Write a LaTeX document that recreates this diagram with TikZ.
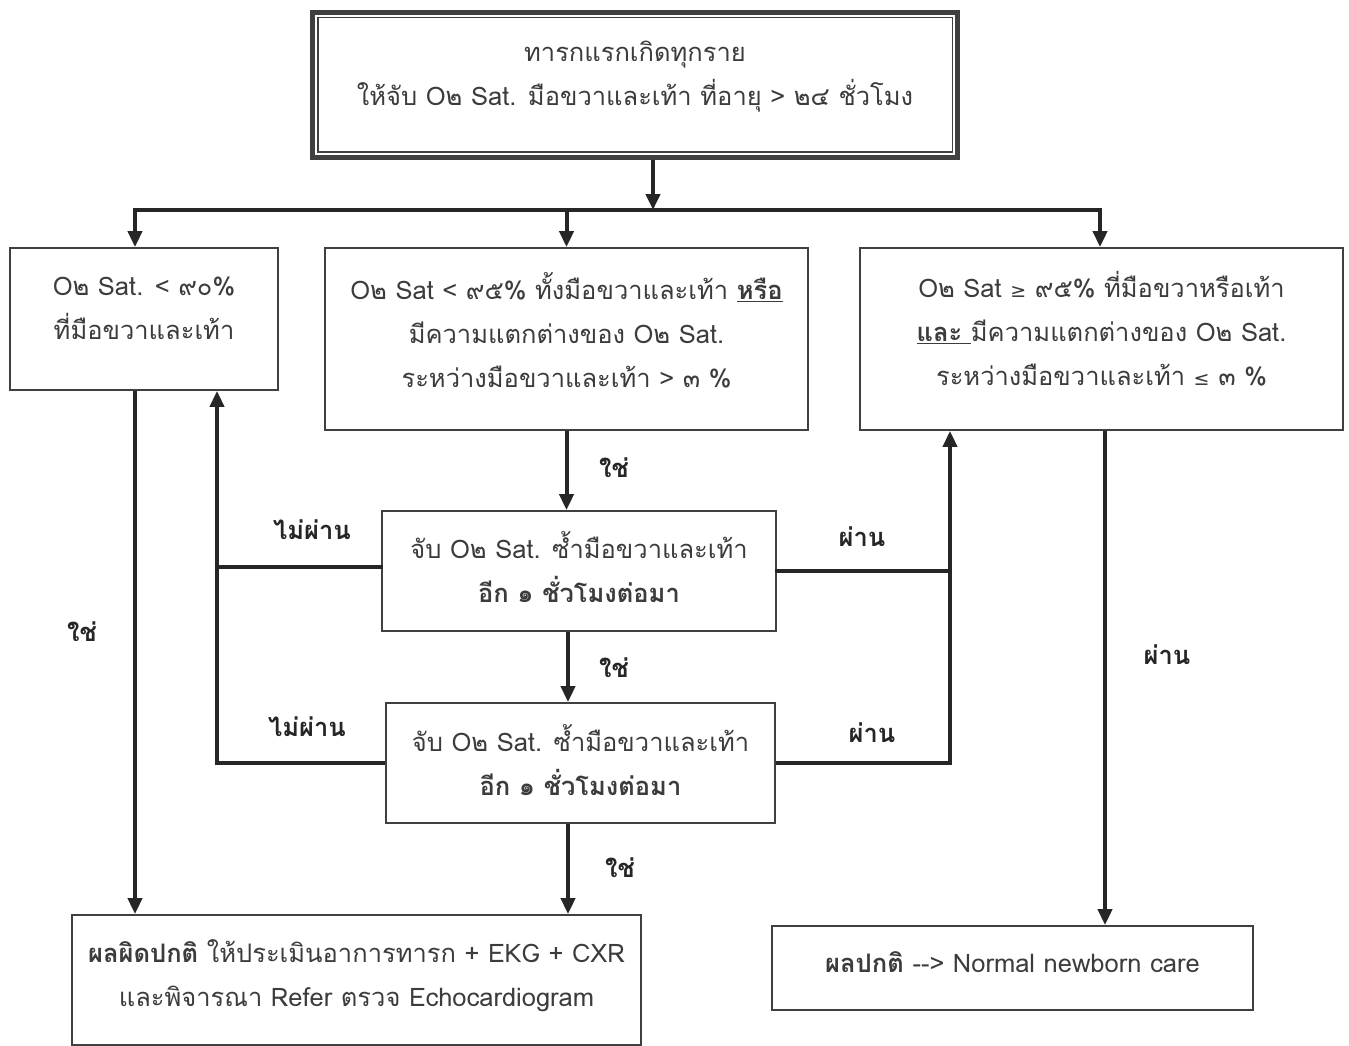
\documentclass[tikz,border=0pt]{standalone}
\usepackage{fontspec}
\setmainfont[Script=Thai]{Loma}
\newfontfamily\symfont{DejaVu Sans}
\usepackage{xcolor}
\usepackage{tikz}
\usetikzlibrary{calc,arrows.meta}
\definecolor{ink}{HTML}{3C3C3C}
\definecolor{wire}{HTML}{262626}
\definecolor{edge}{HTML}{404040}
\newcommand{\thsize}{\fontsize{25.5}{44}\selectfont}
\newcommand{\rel}[1]{{\symfont\fontsize{19}{44}\selectfont#1}}
\tikzset{
  box/.style={draw=edge, line width=1.8pt, inner sep=0pt},
  txt/.style={align=center, text=ink, font=\thsize, inner sep=0pt},
  wire/.style={draw=wire, line width=4pt, line cap=rect, line join=miter},
  arr/.style={draw=wire, line width=4pt, line join=miter, -{Triangle[length=16pt,width=14pt]}},
  lab/.style={text=wire, font=\thsize\bfseries},
}

\begin{document}
\begin{tikzpicture}[x=1pt,y=-1pt]
  \path[fill=white,use as bounding box] (0,0) rectangle (1349,1046);
  \node[box, line width=5.5pt, minimum width=645, minimum height=145] (top) at (635,85) {};
  \draw[edge, line width=1.5pt] ([shift={(8,8)}]top.north west) rectangle ([shift={(-8,-8)}]top.south east);
  \node[txt] (topT) at (635,77)
    {ทารกแรกเกิดทุกราย\\ให้จับ O๒ Sat. มือขวาและเท้า ที่อายุ > ๒๔ ชั่วโมง};
  \node[box, minimum width=268, minimum height=142] (left) at (144,319) {};
  \node[txt] (leftT) at (144,308)
    {O๒ Sat. < ๙๐\%\\ที่มือขวาและเท้า};
  \node[box, minimum width=483, minimum height=182] (mid) at (566.5,339) {};
  \node[txt] (midT) at (566.5,330)
    {O๒ Sat < ๙๕\% ทั้งมือขวาและเท้า \underline{\textbf{หรือ}}\\มีความแตกต่างของ O๒ Sat.\\ระหว่างมือขวาและเท้า > ๓ \%};
  \node[box, minimum width=483, minimum height=182] (right) at (1101.5,339) {};
  \node[txt] (rightT) at (1101.5,329)
    {O๒ Sat \rel{≥} ๙๕\% ที่มือขวาหรือเท้า\\\underline{\textbf{และ} }มีความแตกต่างของ O๒ Sat.\\ระหว่างมือขวาและเท้า \rel{≤} ๓ \%};
  \node[box, minimum width=394, minimum height=120] (chk1) at (579,571) {};
  \node[txt] (chk1T) at (579,567)
    {จับ O๒ Sat. ซ้ำมือขวาและเท้า\\\textbf{อีก ๑ ชั่วโมงต่อมา}};
  \node[box, minimum width=389, minimum height=120] (chk2) at (580.5,763) {};
  \node[txt] (chk2T) at (580.5,760)
    {จับ O๒ Sat. ซ้ำมือขวาและเท้า\\\textbf{อีก ๑ ชั่วโมงต่อมา}};
  \node[box, minimum width=569, minimum height=130] (fail) at (356.5,980) {};
  \node[txt] (failT) at (356.5,976)
    {\textbf{ผลผิดปกติ} ให้ประเมินอาการทารก + EKG + CXR\\และพิจารณา Refer ตรวจ Echocardiogram};
  \node[box, minimum width=481, minimum height=84] (normal) at (1012.5,968) {};
  \node[txt] (normalT) at (1012.5,962)
    {\textbf{ผลปกติ} -{}-> Normal newborn care};

  \coordinate (bar) at (653,210);
  \coordinate (barL) at (135,210);
  \coordinate (barR) at (1100,210);
  \coordinate (colM) at (568,0);
  \coordinate (colR) at (1105,0);
  \coordinate (backL) at (217,0);
  \coordinate (backR) at (950,0);

  \draw[wire] (barL) -- (barR);
  \draw[arr] (top.south -| bar) -- (bar);
  \draw[arr] (barL) -- (barL |- left.north);
  \draw[arr] (mid.north |- bar) -- (mid.north);
  \draw[arr] (barR) -- (barR |- right.north);
  \draw[arr] (barL |- left.south) -- (barL |- fail.north);
  \draw[arr] (mid.south) -- (mid.south |- chk1.north);
  \draw[arr] (colM |- chk1.south) -- (colM |- chk2.north);
  \draw[arr] (colM |- chk2.south) -- (colM |- fail.north);
  \draw[wire] ([yshift=4]chk1.west) -- ([yshift=4]chk1.west -| backL);
  \draw[arr] (chk2.west) -| (backL |- left.south);
  \draw[wire] (chk1.east) -- (chk1.east -| backR);
  \draw[arr] (chk2.east) -| (backR |- right.south);
  \draw[arr] (colR |- right.south) -- (colR |- normal.north);

  \foreach \nm/\x/\y/\t in {yesL/82/632/ใช่, yesA/614/468/ใช่, yesB/614/668/ใช่, yesC/620/868/ใช่,
      failA/312/530/ไม่ผ่าน, failB/307/727/ไม่ผ่าน, passA/862/537/ผ่าน, passB/872/733/ผ่าน, passR/1167/655/ผ่าน}
    \node[lab] (\nm) at (\x,\y) {\t};
\end{tikzpicture}
\end{document}
